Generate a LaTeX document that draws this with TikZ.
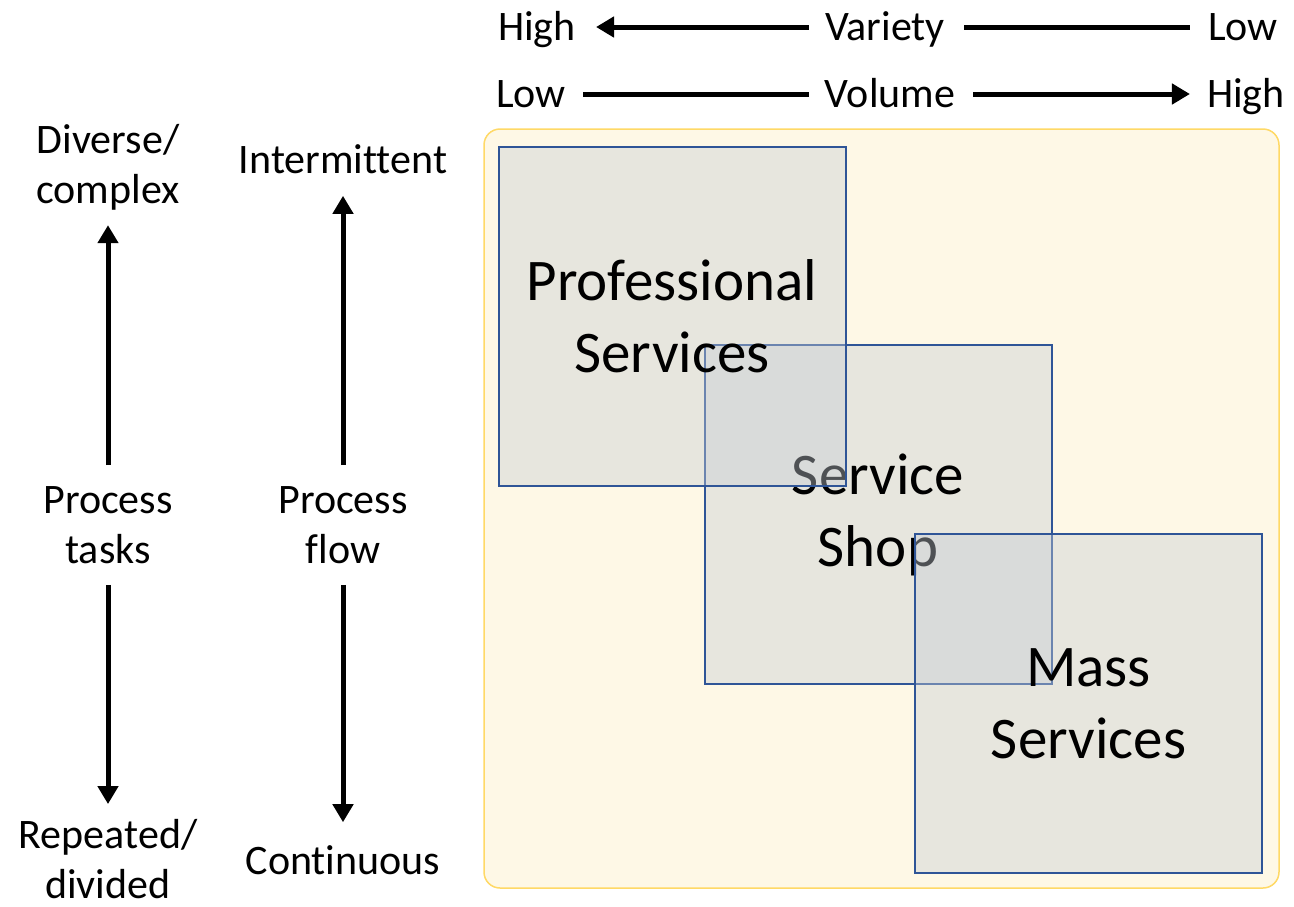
\documentclass[tikz,border=0pt]{standalone}
\usepackage{fontspec}
\setmainfont{Carlito}[Ligatures=NoCommon]
\usetikzlibrary{arrows.meta}
\definecolor{bgyellow}{RGB}{254,248,230}
\definecolor{bgborder}{RGB}{255,217,102}
\definecolor{boxblue}{RGB}{47,85,151}
\definecolor{boxgray}{RGB}{197,203,212}
\tikzset{lb/.style = {inner sep=0pt, align=center, font=\fontsize{42}{50}\selectfont},
         tp/.style = {lb, text height=33pt, text depth=7pt},
         bx/.style = {draw=boxblue, line width=2pt, fill=boxgray, fill opacity=0.4, text opacity=1,
                      minimum width=347pt, minimum height=339pt, inner sep=0pt, align=center,
                      font=\fontsize{59}{72}\selectfont},
         ar/.style = {line width=5pt, -{Triangle[length=18pt,width=20pt]}},
         ln/.style = {line width=5pt}}

\begin{document}
\begin{tikzpicture}[x=1pt, y=-1pt]
    \useasboundingbox (0,0) rectangle (1294,906);
    \draw[bgborder, fill=bgyellow, line width=1.5pt, rounded corners=16pt] (484,129) rectangle (1279,888);
    % top scales
    \node[tp] (hi1) at (537,27) {High};
    \node[tp] (var) at (885,27) {Variety};
    \node[tp, anchor=east] (lo1) at (1278,27) {Low};
    \node[tp] (lo2) at (531,94) {Low};
    \node[tp] (vol) at (890,94) {Volume};
    \node[tp, anchor=east] (hi2) at (1285,94) {High};
    \draw[ar, shorten <=16pt, shorten >=20pt] (var.west) -- (hi1.east);
    \draw[ln, shorten <=19pt, shorten >=18pt] (var.east) -- (lo1.west);
    \draw[ln, shorten <=17pt, shorten >=16pt] (lo2.east) -- (vol.west);
    \draw[ar, shorten <=18pt, shorten >=17pt] (vol.east) -- (hi2.west);
    % left scales
    \node[lb] (dc) at (108,167) {Diverse/\\complex};
    \node[lb] (pt) at (108,525) {Process\\tasks};
    \node[lb] (rd) at (108,859) {Repeated/\\divided};
    \node[lb] (im) at (343,159) {Intermittent};
    \node[lb] (pf) at (343,525) {Process\\flow};
    \node[lb] (ct) at (343,860) {Continuous};
    \draw[ar, shorten <=21pt, shorten >=15pt] (pt.north) -- (dc.south);
    \draw[ar, shorten <=21pt, shorten >=15pt] (pt.south) -- (rd.north);
    \draw[ar, shorten <=21pt, shorten >=22pt] (pf.north) -- (im.south);
    \draw[ar, shorten <=21pt, shorten >=23pt] (pf.south) -- (ct.north);
    % service boxes
    \node[bx] (shop) at (878,514.5) {Service\\Shop};
    \node[bx] (prof) at (672,316) {Professional\\Services};
    \node[bx] (mass) at (1088.5,703.5) {Mass\\Services};
\end{tikzpicture}
\end{document}
